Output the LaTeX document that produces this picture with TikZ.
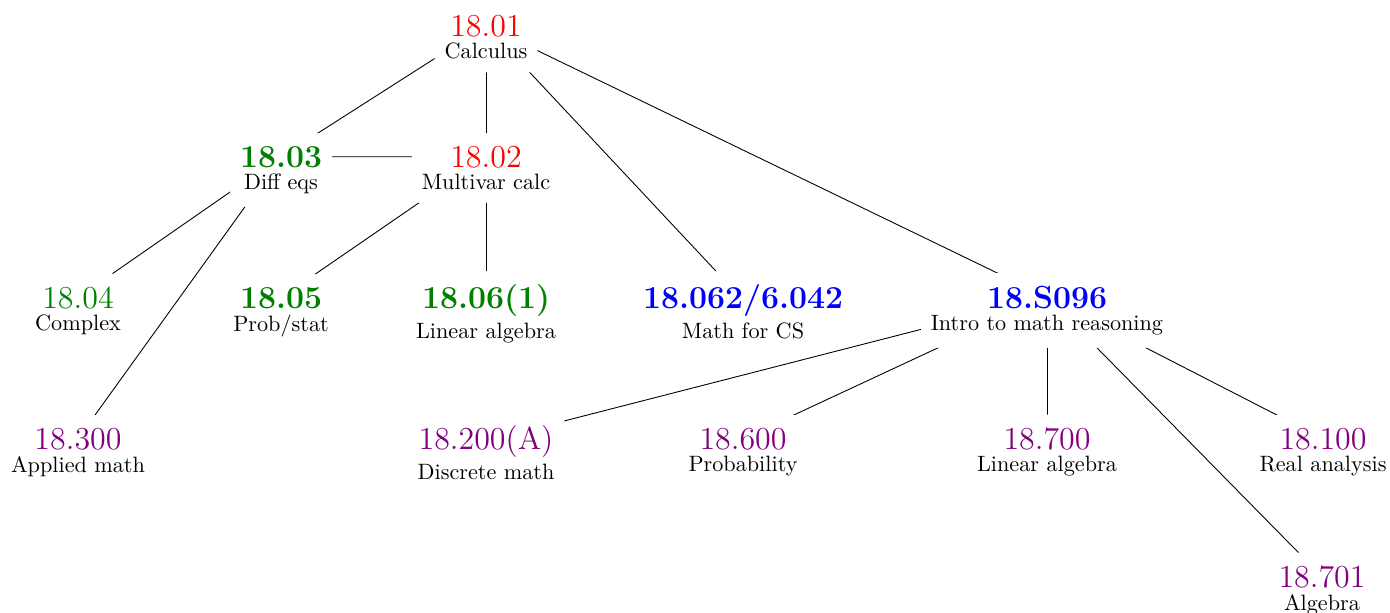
\documentclass[tikz,border=0pt]{standalone}
\usetikzlibrary{fit}
\definecolor{cgreen}{rgb}{0,0.5,0}
\definecolor{cpurple}{rgb}{0.5,0,0.5}
\newcommand\course[6]{%
  \node[num,#4] (#1) at (#2,#3) {#5};
  \node[lab] (#1l) at ([yshift=-3pt]#1.south) {#6};
  \node[box, fit=(#1)(#1l)] (#1b) {};
}
\newcommand\cedge[2]{%
  \begin{scope}[even odd rule]
    \clip (0,0) rectangle (1390,612)
      (#1b.south west) rectangle (#1b.north east)
      (#2b.south west) rectangle (#2b.north east);
    \draw[edge] (#1) -- (#2);
  \end{scope}
}
\begin{document}
\begin{tikzpicture}[x=0.45045pt,y=-0.45045pt,
  num/.style={inner sep=0pt, outer sep=0pt, anchor=base, font=\Large},
  bnum/.style={num, font=\Large\bfseries},
  lab/.style={inner sep=0pt, outer sep=0pt, anchor=north, font=\normalsize, text=black},
  box/.style={inner xsep=4.5pt, inner ysep=5.8pt, outer sep=0pt},
  edge/.style={line width=0.4pt, draw=black}]
\useasboundingbox (0,0) rectangle (1390,612);

\course{c01}{486}{36}{text=red}{18.01}{Calculus}
\course{c03}{281}{167}{bnum,text=cgreen}{18.03}{Diff eqs}
\course{c02}{486}{167}{text=red}{18.02}{Multivar calc}
\course{c04}{78}{308}{text=cgreen}{18.04}{Complex}
\course{c05}{281}{308}{bnum,text=cgreen}{18.05}{Prob/stat}
\course{c06}{486}{308}{bnum,text=cgreen}{18.06(1)}{Linear algebra}
\course{c062}{743}{308}{bnum,text=blue}{18.062/6.042}{Math for CS}
\course{cS}{1047}{308}{bnum,text=blue}{18.S096}{Intro to math reasoning}
\course{c300}{78}{449}{text=cpurple}{18.300}{Applied math}
\course{c200}{486}{449}{text=cpurple}{18.200(A)}{Discrete math}
\course{c600}{743}{449}{text=cpurple}{18.600}{Probability}
\course{c700}{1047}{449}{text=cpurple}{18.700}{Linear algebra}
\course{c100}{1323}{449}{text=cpurple}{18.100}{Real analysis}
\course{c701}{1322}{587}{text=cpurple}{18.701}{Algebra}

\cedge{c01}{c03}
\cedge{c01}{c02}
\cedge{c01}{c062}
\cedge{c01}{cS}
\cedge{c03}{c02}
\cedge{c03}{c04}
\cedge{c03}{c300}
\cedge{c02}{c05}
\cedge{c02}{c06}
\cedge{cS}{c200}
\cedge{cS}{c600}
\cedge{cS}{c700}
\cedge{cS}{c701}
\cedge{cS}{c100}
\end{tikzpicture}
\end{document}
